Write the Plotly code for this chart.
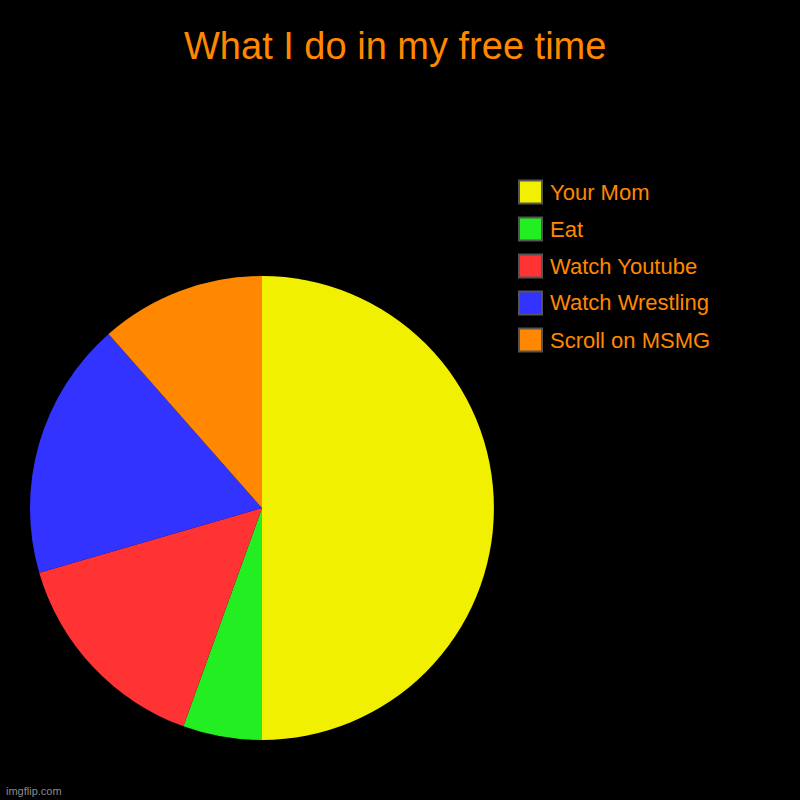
import plotly.graph_objects as go

labels = ["Your Mom", "Eat", "Watch Youtube", "Watch Wrestling", "Scroll on MSMG"]
values = [100, 11, 30, 36, 23]
colors = ["#f0f000", "#22ee22", "#ff3333", "#3333ff", "#ff8800"]

title_text = "What I do in my free time"
text_color = "#ff8800"

fig = go.Figure(go.Pie(
    labels=labels,
    values=values,
    sort=False,
    direction="clockwise",
    rotation=0,
    marker=dict(colors=colors, line=dict(width=0)),
    textinfo="none",
    hoverinfo="label+value+percent",
    domain=dict(x=[30/800, 494/800], y=[1-740/800, 1-276/800]),
    showlegend=False,
))

shapes = []
annotations = []
# manual legend built from the label / colour arrays
for i, (lab, col) in enumerate(zip(labels, colors)):
    cy = 192 + 37 * i
    shapes.append(dict(
        type="rect", xref="paper", yref="paper",
        x0=519/800, x1=542/800, y0=1-(cy+11.5)/800, y1=1-(cy-11.5)/800,
        fillcolor=col, line=dict(color="#555555", width=2),
    ))
    annotations.append(dict(
        text=lab, xref="paper", yref="paper", x=548/800, y=1-cy/800,
        xanchor="left", yanchor="middle", showarrow=False,
        font=dict(family="Liberation Sans, Arial, sans-serif", size=22, color=text_color),
    ))

annotations.append(dict(
    text=title_text, xref="paper", yref="paper", x=395/800, y=1-46/800,
    xanchor="center", yanchor="middle", showarrow=False,
    font=dict(family="Liberation Sans, Arial, sans-serif", size=38, color=text_color),
))
annotations.append(dict(
    text="imgflip.com", xref="paper", yref="paper", x=4/800, y=1-791/800,
    xanchor="left", yanchor="middle", showarrow=False,
    font=dict(family="Liberation Sans, Arial, sans-serif", size=11, color="#8a8a8a"),
))

fig.update_layout(
    width=800, height=800,
    margin=dict(l=0, r=0, t=0, b=0),
    paper_bgcolor="#000000",
    plot_bgcolor="#000000",
    shapes=shapes,
    annotations=annotations,
)

fig.write_html(
    "out.html",
    config={"displayModeBar": False},
    post_script="document.body.style.margin='0';document.body.style.background='#000';document.body.style.overflow='hidden';",
)
